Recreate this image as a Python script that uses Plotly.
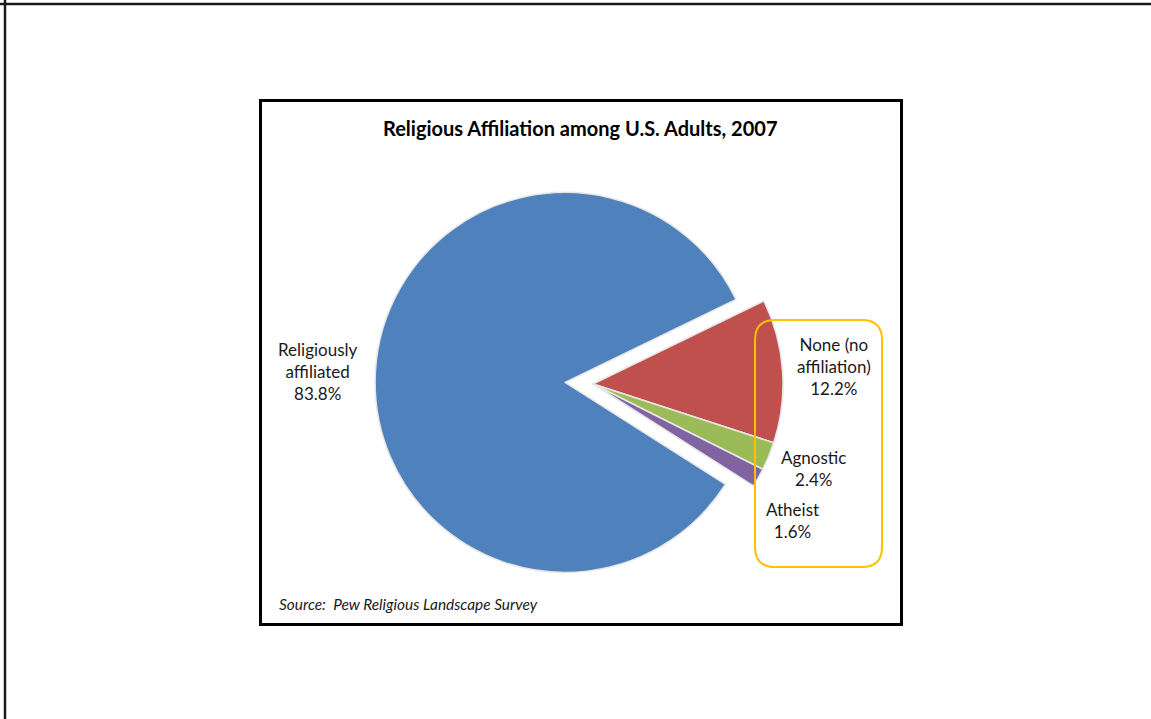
import plotly.graph_objects as go

W, H = 1151, 719

# Data
categories = ["None (no affiliation)", "Agnostic", "Atheist", "Religiously affiliated"]
label_wrapped = ["None (no<br>affiliation)", "Agnostic", "Atheist", "Religiously<br>affiliated"]
values = [12.2, 2.4, 1.6, 83.8]
colors = ["#C0504D", "#9BBB59", "#8064A2", "#4F81BD"]
pulls = [0, 0, 0, 0.147]

title_text = "Religious Affiliation among U.S. Adults, 2007"
source_text = "Source:  Pew Religious Landscape Survey"

# label centre positions in pixels (layout)
label_pos = [(834, 366), (813, 468), (792, 520), (318, 371)]


def px(x):
    return x / W


def py(y):
    return 1 - y / H


# pie geometry (pixels)
cx, cy, r = 593, 384, 190
box = r * (2 + 2 * max(pulls))

fig = go.Figure()
fig.add_trace(go.Pie(
    labels=categories,
    values=values,
    sort=False,
    direction="clockwise",
    rotation=64.1,
    pull=pulls,
    marker=dict(colors=colors, line=dict(color="#E6E6E6", width=1.5)),
    textinfo="none",
    hoverinfo="label+percent",
    showlegend=False,
    domain=dict(x=[px(cx - box / 2), px(cx + box / 2)],
                y=[py(cy + box / 2), py(cy - box / 2)]),
))

annotations = []
for name, v, (lx, ly) in zip(label_wrapped, values, label_pos):
    annotations.append(dict(
        x=px(lx), y=py(ly), xref="paper", yref="paper",
        text=f"{name}<br>{v}%", showarrow=False,
        xanchor="center", yanchor="middle", align="center",
        font=dict(family="Lato", size=17, color="#1a1a1a"),
    ))

annotations.append(dict(
    x=px(580), y=py(128), xref="paper", yref="paper",
    text=f"<b>{title_text}</b>", showarrow=False,
    xanchor="center", yanchor="middle",
    font=dict(family="Lato", size=20, color="#000000"),
))
annotations.append(dict(
    x=px(277), y=py(604), xref="paper", yref="paper",
    text=f"<i>{source_text}</i>", showarrow=False,
    xanchor="left", yanchor="middle",
    font=dict(family="Lato", size=15.4, color="#1a1a1a"),
))

# rounded highlight rectangle path
x0, x1, y0, y1, rr = 755, 882, 320, 567, 20
pts = [
    f"M {px(x0 + rr)},{py(y0)}",
    f"L {px(x1 - rr)},{py(y0)}",
    f"Q {px(x1)},{py(y0)} {px(x1)},{py(y0 + rr)}",
    f"L {px(x1)},{py(y1 - rr)}",
    f"Q {px(x1)},{py(y1)} {px(x1 - rr)},{py(y1)}",
    f"L {px(x0 + rr)},{py(y1)}",
    f"Q {px(x0)},{py(y1)} {px(x0)},{py(y1 - rr)}",
    f"L {px(x0)},{py(y0 + rr)}",
    f"Q {px(x0)},{py(y0)} {px(x0 + rr)},{py(y0)}",
    "Z",
]

shapes = [
    # outer frame lines (top and left)
    dict(type="line", xref="paper", yref="paper", x0=0, x1=1, y0=py(4), y1=py(4),
         line=dict(color="#1a1a1a", width=2.5)),
    dict(type="line", xref="paper", yref="paper", x0=px(5), x1=px(5), y0=0, y1=1,
         line=dict(color="#1a1a1a", width=2.5)),
    # chart box
    dict(type="rect", xref="paper", yref="paper", x0=px(260.5), x1=px(901.5),
         y0=py(624.5), y1=py(100.5), line=dict(color="#000000", width=3)),
    # highlight
    dict(type="path", xref="paper", yref="paper", path=" ".join(pts),
         line=dict(color="#FFC000", width=2)),
]

fig.update_layout(
    width=W, height=H,
    margin=dict(l=0, r=0, t=0, b=0),
    paper_bgcolor="white", plot_bgcolor="white",
    annotations=annotations,
    shapes=shapes,
)

fig.write_html("out.html", config={"displayModeBar": False},
               post_script="document.body.style.margin='0px';")
